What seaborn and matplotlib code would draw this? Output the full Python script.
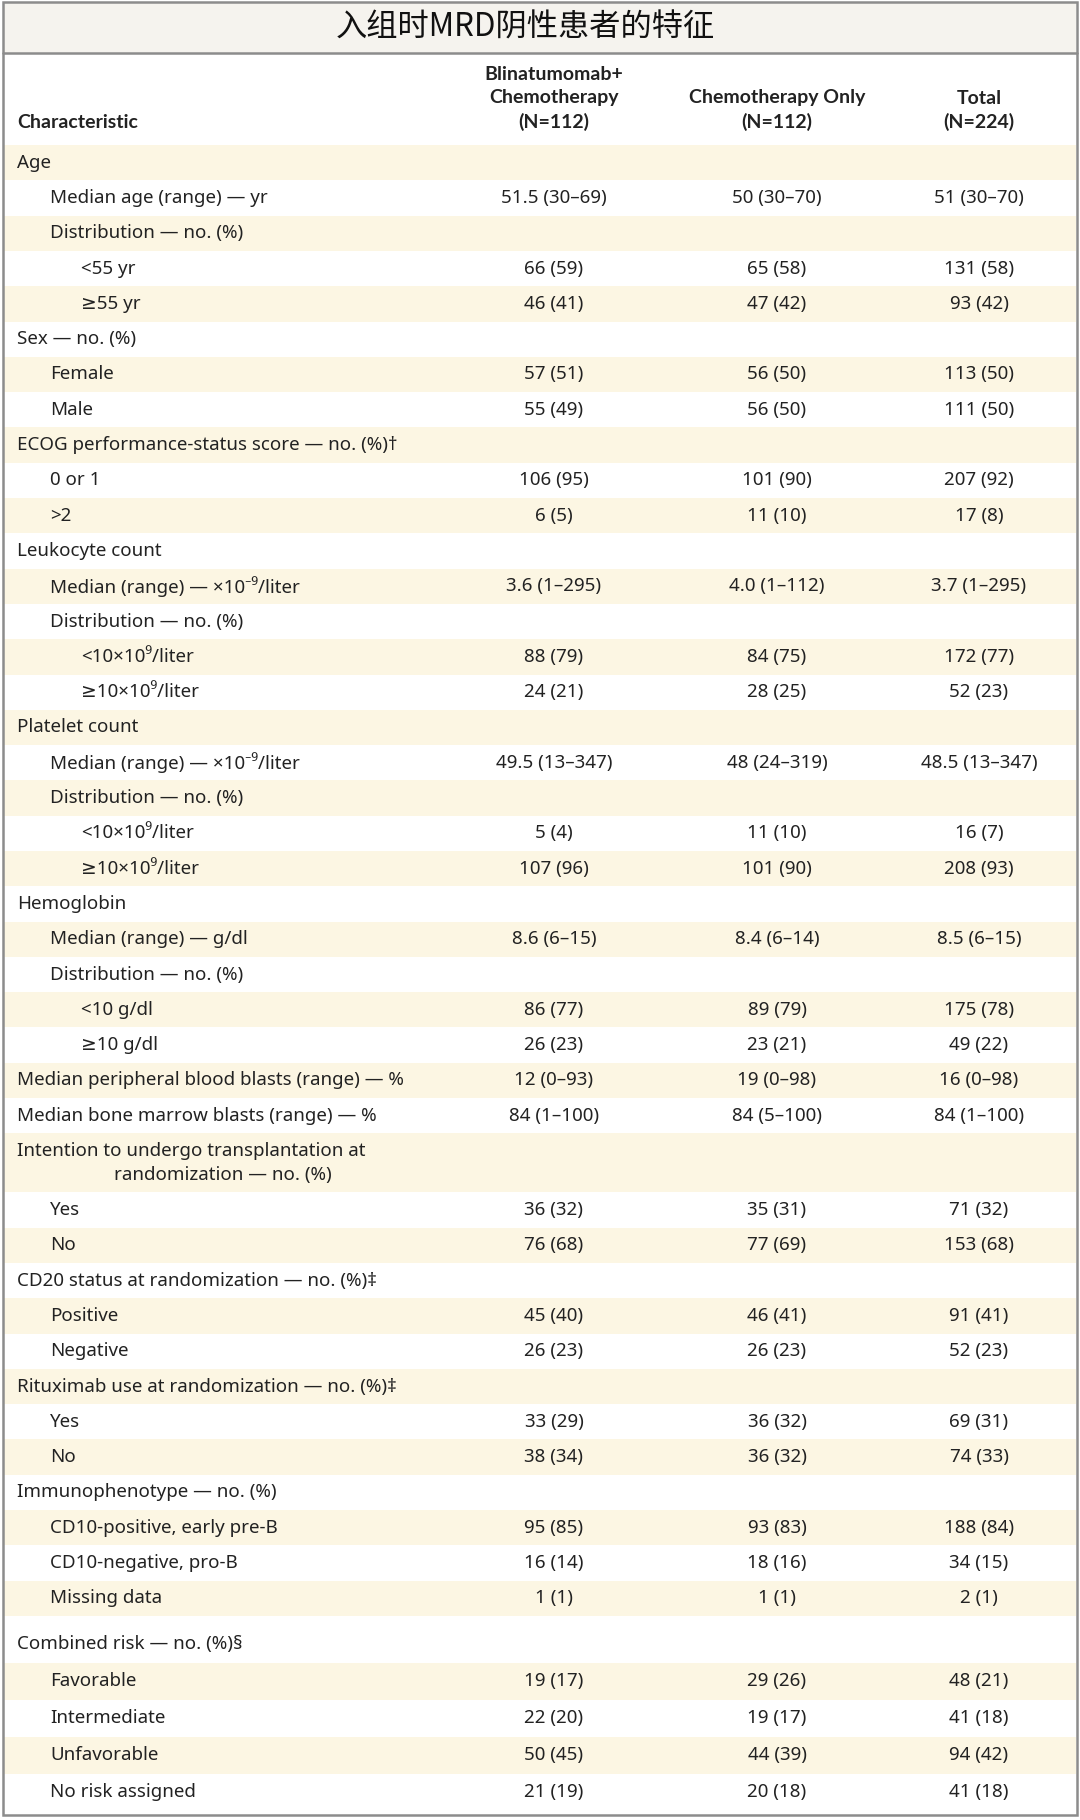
import numpy as np
import pandas as pd
import matplotlib
matplotlib.use("Agg")
import matplotlib.pyplot as plt
import seaborn as sns

# ---- data ----
title = "入组时MRD阴性患者的特征"
col_heads = [
    ["Blinatumomab+", "Chemotherapy", "(N=112)"],
    ["Chemotherapy Only", "(N=112)"],
    ["Total", "(N=224)"],
]

labels = [
    "Age",
    "Median age (range) — yr",
    "Distribution — no. (%)",
    "<55 yr",
    "≥55 yr",
    "Sex — no. (%)",
    "Female",
    "Male",
    "ECOG performance-status score — no. (%)†",
    "0 or 1",
    ">2",
    "Leukocyte count",
    "Median (range) — ×10⁻⁹/liter",
    "Distribution — no. (%)",
    "<10×10⁹/liter",
    "≥10×10⁹/liter",
    "Platelet count",
    "Median (range) — ×10⁻⁹/liter",
    "Distribution — no. (%)",
    "<10×10⁹/liter",
    "≥10×10⁹/liter",
    "Hemoglobin",
    "Median (range) — g/dl",
    "Distribution — no. (%)",
    "<10 g/dl",
    "≥10 g/dl",
    "Median peripheral blood blasts (range) — %",
    "Median bone marrow blasts (range) — %",
    "Intention to undergo transplantation at\nrandomization — no. (%)",
    "Yes",
    "No",
    "CD20 status at randomization — no. (%)‡",
    "Positive",
    "Negative",
    "Rituximab use at randomization — no. (%)‡",
    "Yes",
    "No",
    "Immunophenotype — no. (%)",
    "CD10-positive, early pre-B",
    "CD10-negative, pro-B",
    "Missing data",
    "Combined risk — no. (%)§",
    "Favorable",
    "Intermediate",
    "Unfavorable",
    "No risk assigned",
]

levels = [0, 1, 1, 2, 2, 0, 1, 1, 0, 1, 1, 0, 1, 1, 2, 2, 0, 1, 1, 2, 2,
          0, 1, 1, 2, 2, 0, 0, 0, 1, 1, 0, 1, 1, 0, 1, 1, 0, 1, 1, 1,
          0, 1, 1, 1, 1]

blin = ["", "51.5 (30–69)", "", "66 (59)", "46 (41)", "", "57 (51)", "55 (49)",
        "", "106 (95)", "6 (5)", "", "3.6 (1–295)", "", "88 (79)", "24 (21)",
        "", "49.5 (13–347)", "", "5 (4)", "107 (96)", "", "8.6 (6–15)", "",
        "86 (77)", "26 (23)", "12 (0–93)", "84 (1–100)", "", "36 (32)", "76 (68)",
        "", "45 (40)", "26 (23)", "", "33 (29)", "38 (34)", "", "95 (85)",
        "16 (14)", "1 (1)", "", "19 (17)", "22 (20)", "50 (45)", "21 (19)"]

chemo = ["", "50 (30–70)", "", "65 (58)", "47 (42)", "", "56 (50)", "56 (50)",
         "", "101 (90)", "11 (10)", "", "4.0 (1–112)", "", "84 (75)", "28 (25)",
         "", "48 (24–319)", "", "11 (10)", "101 (90)", "", "8.4 (6–14)", "",
         "89 (79)", "23 (21)", "19 (0–98)", "84 (5–100)", "", "35 (31)", "77 (69)",
         "", "46 (41)", "26 (23)", "", "36 (32)", "36 (32)", "", "93 (83)",
         "18 (16)", "1 (1)", "", "29 (26)", "19 (17)", "44 (39)", "20 (18)"]

total = ["", "51 (30–70)", "", "131 (58)", "93 (42)", "", "113 (50)", "111 (50)",
         "", "207 (92)", "17 (8)", "", "3.7 (1–295)", "", "172 (77)", "52 (23)",
         "", "48.5 (13–347)", "", "16 (7)", "208 (93)", "", "8.5 (6–15)", "",
         "175 (78)", "49 (22)", "16 (0–98)", "84 (1–100)", "", "71 (32)", "153 (68)",
         "", "91 (41)", "52 (23)", "", "69 (31)", "74 (33)", "", "188 (84)",
         "34 (15)", "2 (1)", "", "48 (21)", "41 (18)", "94 (42)", "41 (18)"]

df = pd.DataFrame({"label": labels, "level": levels,
                   "blin": blin, "chemo": chemo, "total": total})

# ---- layout ----
W, H = 1080, 1820
top = 145.0
row_h = 35.3
risk_start = labels.index("Combined risk — no. (%)§")
heights = np.full(len(df), row_h)
heights[labels.index("Intention to undergo transplantation at\nrandomization — no. (%)")] = 59
heights[risk_start:] = 37.0
gaps = np.zeros(len(df))
gaps[risk_start] = 10
tops = top + np.concatenate([[0], np.cumsum(heights[:-1])]) + np.cumsum(gaps)
df["y"] = tops + heights / 2
df["h"] = heights

indent = {0: 17, 1: 50, 2: 81}
col_x = {"blin": 554, "chemo": 777, "total": 979}

stripe = "#fcf6e3"
frame_c = "#8c8c8c"
text_c = "#222222"
fs = 13.5

sns.set_theme(style="white")
plt.rcParams["font.family"] = ["Noto Sans", "DejaVu Sans"]
head_font = ["Lato", "DejaVu Sans"]

fig = plt.figure(figsize=(W / 100, H / 100), dpi=100)
ax = fig.add_axes([0, 0, 1, 1])
ax.set_xlim(0, W)
ax.set_ylim(H, 0)
ax.axis("off")

# striped rows
colors = [stripe if i % 2 == 0 else "white" for i in range(len(df))]
ax.barh(df["y"], width=1072, left=4, height=df["h"], color=colors, linewidth=0)

# title band
ax.barh([27.5], width=1072, left=4, height=51, color="#f5f3ee", linewidth=0)
ax.axhline(53, xmin=3 / W, xmax=1077 / W, color=frame_c, lw=1.8)
ax.text(525, 28, title, ha="center", va="center", fontsize=22.5, color="#111111",
        fontweight="medium", family=["Noto Sans CJK SC", "DejaVu Sans"])

# frame
ax.add_patch(plt.Rectangle((3, 2), 1074, 1813, fill=False, edgecolor=frame_c, lw=1.8))

# header
ax.text(17, 122, "Characteristic", ha="left", va="center", fontsize=14,
        fontweight="bold", color=text_c, family=head_font)
for key, lines in zip(["blin", "chemo", "total"], col_heads):
    for k, line in enumerate(reversed(lines)):
        ax.text(col_x[key], 122 - 24 * k, line, ha="center", va="center",
                fontsize=14, fontweight="bold", color=text_c, family=head_font)

# body
for _, r in df.iterrows():
    x = indent[r["level"]]
    if "\n" in r["label"]:
        first, second = r["label"].split("\n")
        ax.text(x, r["y"] - 12, first, ha="left", va="center", fontsize=fs, color=text_c)
        ax.text(114, r["y"] + 12, second, ha="left", va="center", fontsize=fs, color=text_c)
    else:
        ax.text(x, r["y"], r["label"], ha="left", va="center", fontsize=fs, color=text_c)
    for key in ["blin", "chemo", "total"]:
        if r[key]:
            ax.text(col_x[key], r["y"], r[key], ha="center", va="center",
                    fontsize=fs, color=text_c)

fig.savefig("out.png", dpi=100)
